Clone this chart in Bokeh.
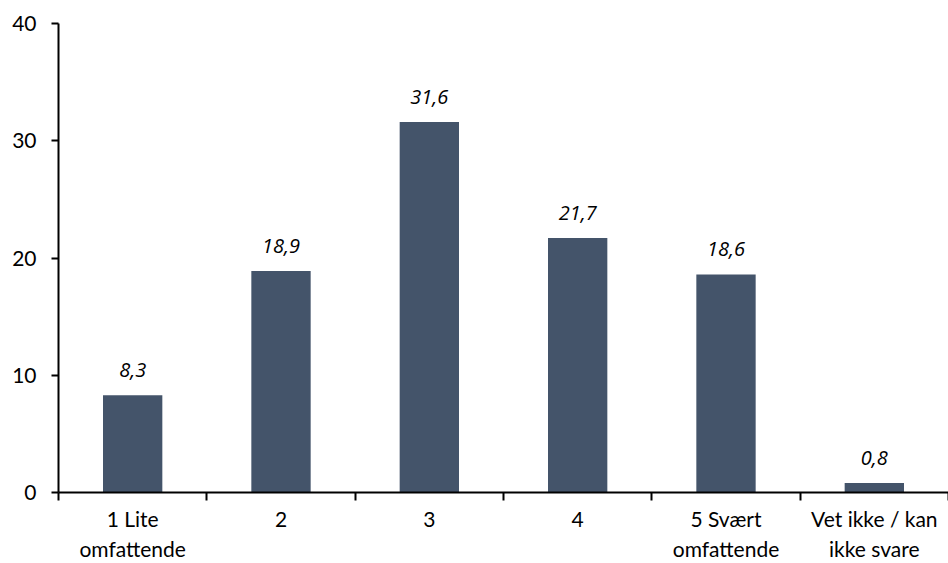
from bokeh.plotting import figure
from bokeh.models import ColumnDataSource, FixedTicker, Range1d
from bokeh.core.properties import value
from bokeh.embed import file_html
from bokeh.resources import INLINE

categories = ["1 Lite\nomfattende", "2", "3", "4", "5 Svært\nomfattende", "Vet ikke / kan\nikke svare"]
values = [8.3, 18.9, 31.6, 21.7, 18.6, 0.8]
y_ticks = [0, 10, 20, 30, 40]

FONT = "Lato"
LABEL_FONT = "Open Sans"
BAR = "#44546A"

xs = [i + 0.5 for i in range(len(categories))]
labels = [f"{v:.1f}".replace(".", ",") for v in values]
src = ColumnDataSource(dict(x=xs, top=values, label=labels))

p = figure(width=948, height=563, output_backend="svg", toolbar_location=None,
           x_range=Range1d(0, len(categories)), y_range=Range1d(0, 40))
p.min_border_left = 58
p.min_border_right = 0
p.min_border_top = 23
p.min_border_bottom = 70
p.outline_line_color = None
p.background_fill_color = None
p.border_fill_color = "white"
p.grid.visible = False

p.vbar(x="x", top="top", width=0.4, bottom=0, source=src, fill_color=BAR, line_color=None)

p.text(x="x", y="top", text="label", source=src, text_align="center",
       text_baseline="alphabetic", y_offset=-25, text_font=value(LABEL_FONT),
       text_font_size="20px", text_font_style="italic", text_color="black")

# x axis
xa = p.xaxis[0]
xa.ticker = FixedTicker(ticks=xs, minor_ticks=list(range(len(categories) + 1)))
xa.major_label_overrides = {x: c for x, c in zip(xs, categories)}
xa.major_tick_out = 0
xa.major_tick_in = 0
xa.minor_tick_out = 8
xa.minor_tick_in = 0
xa.minor_tick_line_color = "black"
xa.minor_tick_line_width = 2
xa.axis_line_color = "black"
xa.axis_line_width = 2
xa.major_label_text_font = FONT
xa.major_label_text_font_size = "21px"
xa.major_label_text_color = "black"
xa.major_label_standoff = 5

ya = p.yaxis[0]
ya.ticker = FixedTicker(ticks=y_ticks)
ya.minor_tick_line_color = None
ya.major_tick_out = 7
ya.major_tick_in = 0
ya.major_tick_line_width = 2
ya.major_tick_line_color = "black"
ya.axis_line_color = "black"
ya.axis_line_width = 2
ya.major_label_text_font = FONT
ya.major_label_text_font_size = "21px"
ya.major_label_text_color = "black"
ya.major_label_standoff = 15

open("out.html", "w").write(file_html(p, INLINE))
